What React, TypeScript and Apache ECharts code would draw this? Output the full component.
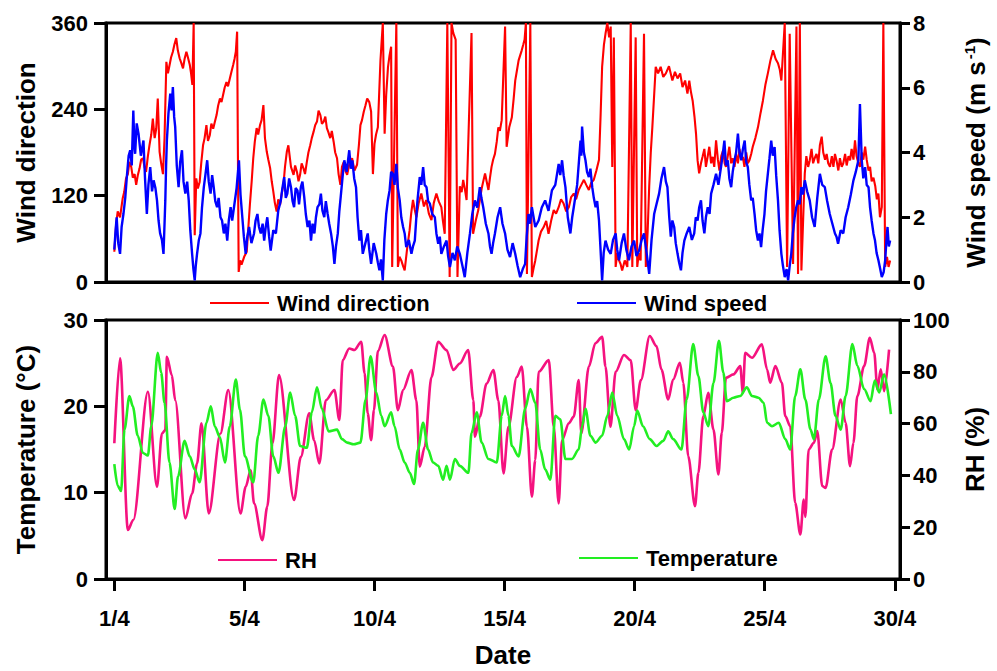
import React, { useEffect, useRef } from "react";
import * as echarts from "echarts";

const dateTickValues = [0, 5, 10, 15, 20, 25, 30];
const dateTickLabels = ["1/4", "5/4", "10/4", "15/4", "20/4", "25/4", "30/4"];

const windDirection: [number, number][] = [
  [0.0,42],[0.07,80],[0.13,98],[0.22,90],[0.32,116],[0.38,125],[0.45,144],[0.52,150],[0.58,167],[0.65,160],[0.71,145],[0.78,150],[0.84,135],[0.9,148],[0.97,158],[1.03,170],[1.1,172],[1.16,160],[1.22,153],[1.29,175],[1.35,190],[1.42,205],[1.48,227],[1.55,200],[1.61,213],[1.67,255],[1.74,181],[1.8,165],[1.87,150],[1.93,200],[2.0,306],[2.06,290],[2.12,301],[2.18,312],[2.25,320],[2.31,330],[2.38,339],[2.44,322],[2.51,311],[2.57,305],[2.64,297],[2.7,310],[2.77,320],[2.83,312],[2.9,302],[2.95,290],[3.0,274],[3.05,360],[3.09,65],[3.15,144],[3.21,130],[3.28,139],[3.34,165],[3.41,190],[3.47,200],[3.54,218],[3.6,196],[3.67,204],[3.73,220],[3.8,213],[3.86,222],[3.93,232],[3.99,245],[4.06,255],[4.12,250],[4.18,260],[4.24,270],[4.31,278],[4.37,272],[4.44,283],[4.5,292],[4.57,302],[4.62,310],[4.67,320],[4.72,348],[4.78,14],[4.84,30],[4.89,24],[4.99,35],[5.09,42],[5.15,75],[5.21,107],[5.28,140],[5.34,172],[5.4,195],[5.47,214],[5.53,205],[5.6,218],[5.66,225],[5.73,246],[5.79,200],[5.86,181],[5.92,170],[5.99,158],[6.05,140],[6.11,126],[6.17,110],[6.24,98],[6.3,115],[6.37,107],[6.43,122],[6.5,135],[6.56,160],[6.63,181],[6.69,190],[6.79,160],[6.89,149],[6.95,162],[7.02,153],[7.08,140],[7.14,149],[7.2,165],[7.27,158],[7.33,150],[7.4,167],[7.46,180],[7.53,190],[7.59,200],[7.66,209],[7.72,218],[7.79,223],[7.85,238],[7.92,232],[7.98,220],[8.05,223],[8.11,230],[8.17,214],[8.23,208],[8.3,200],[8.36,210],[8.43,195],[8.49,180],[8.56,172],[8.62,150],[8.69,135],[8.75,160],[8.82,167],[8.88,155],[8.95,149],[9.04,165],[9.14,172],[9.23,155],[9.33,163],[9.4,190],[9.46,218],[9.52,225],[9.59,237],[9.65,245],[9.72,255],[9.8,250],[9.87,237],[9.94,150],[10.0,192],[10.06,205],[10.13,215],[10.23,308],[10.32,360],[10.39,206],[10.45,260],[10.52,299],[10.58,315],[10.64,327],[10.68,21],[10.84,360],[10.9,21],[10.96,35],[11.03,30],[11.1,22],[11.16,16],[11.25,45],[11.35,72],[11.41,95],[11.48,114],[11.55,100],[11.61,90],[11.7,110],[11.8,123],[11.9,105],[11.99,114],[12.09,95],[12.19,86],[12.28,110],[12.38,123],[12.47,112],[12.57,104],[12.63,85],[12.7,67],[12.8,360],[12.89,7],[12.96,360],[13.03,346],[13.12,337],[13.19,7],[13.28,133],[13.35,125],[13.41,142],[13.48,128],[13.54,114],[13.73,346],[13.79,67],[13.89,85],[13.99,100],[14.12,130],[14.25,151],[14.31,140],[14.38,128],[14.44,145],[14.5,160],[14.56,170],[14.63,178],[14.7,195],[14.76,215],[14.82,210],[14.89,225],[15.02,355],[15.08,188],[15.18,215],[15.28,229],[15.35,255],[15.41,280],[15.48,295],[15.54,308],[15.6,315],[15.66,322],[15.72,330],[15.77,337],[15.82,360],[15.86,11],[15.99,360],[16.05,7],[16.12,20],[16.18,30],[16.25,45],[16.31,58],[16.4,70],[16.5,76],[16.6,85],[16.69,67],[16.79,85],[16.89,100],[16.98,95],[17.08,104],[17.17,115],[17.27,109],[17.37,98],[17.47,104],[17.56,118],[17.66,123],[17.75,115],[17.85,128],[17.95,135],[18.05,142],[18.14,135],[18.24,128],[18.33,138],[18.43,142],[18.53,155],[18.63,170],[18.69,230],[18.75,299],[18.82,330],[18.88,345],[18.95,360],[19.02,340],[19.08,355],[19.14,160],[19.2,340],[19.27,21],[19.33,40],[19.4,30],[19.46,25],[19.52,16],[19.62,30],[19.72,21],[19.85,360],[19.91,21],[20.04,340],[20.1,21],[20.16,40],[20.23,30],[20.36,345],[20.43,21],[20.5,70],[20.56,133],[20.62,180],[20.68,215],[20.75,260],[20.81,299],[20.9,290],[21.0,299],[21.1,285],[21.2,290],[21.32,300],[21.45,280],[21.55,292],[21.65,283],[21.75,290],[21.84,271],[21.94,280],[22.03,262],[22.1,280],[22.16,265],[22.23,252],[22.3,230],[22.36,206],[22.42,169],[22.48,151],[22.55,165],[22.61,174],[22.68,185],[22.74,160],[22.81,175],[22.87,188],[22.94,165],[23.0,174],[23.06,160],[23.13,197],[23.2,170],[23.26,155],[23.33,175],[23.4,183],[23.46,165],[23.51,160],[23.58,175],[23.64,188],[23.71,165],[23.77,172],[23.84,160],[23.9,178],[23.97,165],[24.03,185],[24.1,170],[24.16,174],[24.22,160],[24.29,180],[24.35,165],[24.41,169],[24.48,178],[24.54,188],[24.64,200],[24.74,215],[24.84,235],[24.93,252],[25.03,275],[25.12,290],[25.22,308],[25.32,322],[25.42,310],[25.51,304],[25.58,295],[25.64,280],[25.77,360],[25.86,21],[25.96,345],[26.09,25],[26.22,355],[26.28,11],[26.35,360],[26.41,16],[26.48,90],[26.54,151],[26.6,175],[26.67,160],[26.73,169],[26.8,185],[26.86,165],[26.92,172],[26.99,178],[27.06,165],[27.12,190],[27.19,202],[27.25,180],[27.32,170],[27.38,178],[27.44,165],[27.51,160],[27.58,175],[27.64,160],[27.7,178],[27.76,169],[27.83,155],[27.89,172],[27.96,160],[28.02,165],[28.09,178],[28.15,162],[28.22,175],[28.28,169],[28.34,185],[28.41,170],[28.47,197],[28.53,175],[28.6,165],[28.66,160],[28.73,180],[28.79,170],[28.86,188],[28.92,170],[28.99,155],[29.05,160],[29.11,140],[29.18,145],[29.25,133],[29.31,115],[29.37,123],[29.43,90],[29.5,104],[29.56,360],[29.63,21],[29.7,35],[29.76,21],[29.82,30],
];

const windSpeed: [number, number][] = [
  [0,1.0],[0.05,1.6],[0.09,2.0],[0.15,1.2],[0.22,0.87],[0.28,1.7],[0.35,2.1],[0.42,2.6],[0.48,3.24],[0.55,3.9],[0.61,4.07],[0.67,3.6],[0.73,5.3],[0.77,4.2],[0.8,3.96],[0.86,4.9],[0.93,4.58],[1.02,3.9],[1.12,4.37],[1.18,3.2],[1.25,2.1],[1.31,3.0],[1.38,3.55],[1.45,2.8],[1.51,3.14],[1.58,2.9],[1.64,2.52],[1.7,1.9],[1.76,1.5],[1.83,1.3],[1.89,0.87],[1.93,1.8],[1.96,2.52],[1.99,3.6],[2.02,4.37],[2.08,5.2],[2.15,5.82],[2.2,5.3],[2.25,6.02],[2.3,5.1],[2.34,4.79],[2.4,3.6],[2.47,2.93],[2.53,3.7],[2.6,4.07],[2.66,3.1],[2.73,2.73],[2.8,3.1],[2.86,2.52],[2.92,1.6],[2.99,0.87],[3.04,0.4],[3.09,0.05],[3.13,0.5],[3.18,0.87],[3.25,1.3],[3.31,1.5],[3.37,2.3],[3.44,2.93],[3.5,3.3],[3.57,3.76],[3.63,3.1],[3.7,2.73],[3.76,3.3],[3.82,2.93],[3.88,2.5],[3.95,2.31],[4.01,2.6],[4.08,2.0],[4.14,1.9],[4.21,1.5],[4.27,1.8],[4.34,1.28],[4.4,1.9],[4.47,2.31],[4.53,1.9],[4.6,2.31],[4.7,2.9],[4.79,3.76],[4.85,2.7],[4.92,2.0],[4.98,1.4],[5.05,0.87],[5.11,1.4],[5.18,1.7],[5.27,1.2],[5.37,1.5],[5.43,1.9],[5.5,2.1],[5.56,1.7],[5.63,1.5],[5.7,1.8],[5.76,1.28],[5.82,1.7],[5.88,2.0],[5.95,1.4],[6.01,0.97],[6.11,1.6],[6.21,1.5],[6.3,2.2],[6.4,2.52],[6.46,2.9],[6.53,3.24],[6.59,2.6],[6.65,2.73],[6.72,3.2],[6.79,2.93],[6.85,2.5],[6.91,2.31],[6.97,2.9],[7.04,2.83],[7.1,2.4],[7.17,2.93],[7.23,3.1],[7.3,2.62],[7.36,2.1],[7.43,1.7],[7.5,1.9],[7.56,1.28],[7.62,1.8],[7.69,1.5],[7.75,2.0],[7.81,2.31],[7.88,2.4],[7.94,2.73],[8.0,2.2],[8.07,2.0],[8.13,2.5],[8.2,2.1],[8.26,1.8],[8.33,1.5],[8.4,1.1],[8.46,0.56],[8.52,1.1],[8.59,1.5],[8.65,2.2],[8.71,2.7],[8.78,3.3],[8.84,3.76],[8.93,3.4],[9.03,4.07],[9.09,3.5],[9.15,3.76],[9.22,3.2],[9.29,2.93],[9.35,2.0],[9.42,1.28],[9.48,1.6],[9.55,0.87],[9.65,1.2],[9.74,1.5],[9.8,1.0],[9.87,0.56],[9.97,1.2],[10.07,0.87],[10.13,0.6],[10.19,0.36],[10.25,0.7],[10.32,0.05],[10.38,1.3],[10.45,2.1],[10.51,2.5],[10.58,2.83],[10.64,3.4],[10.71,3.34],[10.77,3.0],[10.84,3.65],[10.9,2.9],[10.97,2.52],[11.03,2.0],[11.1,1.7],[11.16,1.5],[11.22,1.08],[11.32,1.3],[11.42,0.87],[11.48,1.1],[11.55,1.28],[11.65,2.5],[11.74,3.24],[11.8,3.0],[11.87,3.55],[11.93,3.0],[12.0,2.93],[12.06,2.5],[12.13,2.42],[12.22,2.1],[12.32,2.0],[12.38,1.5],[12.45,1.18],[12.51,1.4],[12.57,0.87],[12.67,1.1],[12.77,1.28],[12.83,0.8],[12.9,0.46],[13.0,0.9],[13.09,0.67],[13.18,1.1],[13.28,0.87],[13.38,0.5],[13.47,0.15],[13.57,0.9],[13.67,1.5],[13.76,2.1],[13.86,2.52],[13.95,2.3],[14.05,2.93],[14.11,2.6],[14.18,2.31],[14.28,1.8],[14.38,1.5],[14.44,1.1],[14.5,0.87],[14.56,1.2],[14.63,1.5],[14.73,2.0],[14.83,2.31],[14.92,1.8],[15.02,1.5],[15.11,1.0],[15.21,0.77],[15.31,1.2],[15.41,0.87],[15.5,0.5],[15.6,0.15],[15.7,0.4],[15.79,0.56],[15.85,1.4],[15.92,2.1],[15.98,1.8],[16.05,2.31],[16.18,1.7],[16.31,1.9],[16.43,2.3],[16.56,2.52],[16.69,2.2],[16.82,2.83],[16.95,3.0],[17.08,3.65],[17.14,3.3],[17.21,3.76],[17.27,3.3],[17.34,2.93],[17.43,2.0],[17.53,1.5],[17.6,2.0],[17.66,2.31],[17.79,3.0],[17.92,4.37],[17.95,3.9],[17.98,4.8],[18.05,4.0],[18.11,3.76],[18.17,3.4],[18.24,3.24],[18.3,3.5],[18.37,2.93],[18.43,2.6],[18.5,2.31],[18.56,2.5],[18.63,1.9],[18.69,1.0],[18.75,0.05],[18.81,0.9],[18.88,1.28],[18.98,1.0],[19.08,0.87],[19.17,1.3],[19.27,1.5],[19.33,1.0],[19.4,0.67],[19.5,1.2],[19.59,1.5],[19.68,1.0],[19.78,0.67],[19.88,1.1],[19.98,1.28],[20.07,0.8],[20.17,0.97],[20.27,1.3],[20.36,1.5],[20.46,0.9],[20.56,0.25],[20.65,1.3],[20.75,2.1],[20.84,2.4],[20.94,2.73],[21.03,3.2],[21.13,3.55],[21.2,3.1],[21.26,2.93],[21.33,2.0],[21.39,1.4],[21.45,1.9],[21.52,1.7],[21.58,1.2],[21.65,0.87],[21.71,0.6],[21.78,0.36],[21.84,0.9],[21.91,1.28],[22.0,1.5],[22.1,1.7],[22.2,1.3],[22.29,1.5],[22.35,2.0],[22.42,1.9],[22.48,2.3],[22.55,2.52],[22.61,1.9],[22.68,1.5],[22.74,2.0],[22.81,2.31],[22.88,2.1],[22.94,2.73],[23.03,3.0],[23.13,3.34],[23.22,3.0],[23.32,3.55],[23.38,3.9],[23.45,4.37],[23.51,3.6],[23.58,3.76],[23.64,3.2],[23.71,2.93],[23.77,3.4],[23.84,3.76],[23.9,4.0],[23.97,4.58],[24.03,4.0],[24.1,3.76],[24.16,4.1],[24.23,4.37],[24.29,3.7],[24.35,3.55],[24.41,3.0],[24.48,2.52],[24.54,2.6],[24.61,2.1],[24.67,1.6],[24.74,1.28],[24.8,1.5],[24.86,1.08],[24.92,1.6],[24.99,2.1],[25.05,2.8],[25.12,3.34],[25.18,3.8],[25.25,4.37],[25.31,3.9],[25.38,4.17],[25.44,3.3],[25.51,2.52],[25.57,1.6],[25.64,0.87],[25.7,0.5],[25.77,0.15],[25.84,0.4],[25.9,0.05],[25.96,0.5],[26.02,0.87],[26.08,1.5],[26.15,2.0],[26.21,2.3],[26.28,2.52],[26.34,2.4],[26.41,2.93],[26.47,2.7],[26.54,3.14],[26.63,2.8],[26.73,2.52],[26.82,2.0],[26.92,1.7],[27.02,2.6],[27.12,3.34],[27.21,3.0],[27.31,2.93],[27.4,2.5],[27.5,2.1],[27.6,1.8],[27.7,1.5],[27.76,1.4],[27.82,1.18],[27.92,1.6],[28.02,1.5],[28.11,2.0],[28.21,2.31],[28.31,2.7],[28.41,3.14],[28.5,3.4],[28.6,3.76],[28.66,5.5],[28.73,3.76],[28.79,3.2],[28.86,3.55],[28.92,3.0],[28.99,2.93],[29.05,2.3],[29.11,1.9],[29.18,1.5],[29.24,1.28],[29.3,0.9],[29.37,0.67],[29.44,0.4],[29.5,0.15],[29.57,0.3],[29.63,0.67],[29.68,1.3],[29.72,1.7],[29.77,1.1],[29.82,1.28],
];

const temperature: [number, number][] = [
  [0.0, 13.3], [0.13, 10.8], [0.26, 10.2], [0.39, 17.3], [0.58, 21.2], [0.71, 20.0], [0.9, 16.6], [1.1, 14.6],
  [1.29, 14.3], [1.42, 17.7], [1.67, 26.2], [1.8, 23.9], [1.93, 20.4], [2.12, 13.5], [2.32, 8.1], [2.45, 11.9],
  [2.7, 16.0], [2.9, 14.2], [3.09, 12.7], [3.28, 11.2], [3.54, 18.1], [3.71, 20.0], [3.86, 17.7], [4.06, 16.4],
  [4.25, 13.5], [4.44, 17.7], [4.67, 23.1], [4.83, 19.6], [5.02, 14.2], [5.34, 11.2], [5.53, 16.6], [5.73, 20.8],
  [5.92, 18.9], [6.11, 14.2], [6.31, 12.3], [6.57, 17.7], [6.76, 21.6], [6.95, 18.9], [7.14, 15.4], [7.4, 15.2],
  [7.59, 19.3], [7.79, 22.2], [7.98, 19.7], [8.24, 17.1], [8.56, 17.3], [8.75, 16.2], [8.95, 15.8], [9.2, 15.6],
  [9.46, 15.8], [9.66, 20.8], [9.85, 25.8], [10.07, 21.6], [10.26, 18.9], [10.39, 17.7], [10.64, 19.3], [10.77, 17.7],
  [10.97, 15.0], [11.16, 13.5], [11.36, 12.3], [11.52, 11.0], [11.67, 15.0], [11.87, 18.1], [12.06, 15.0], [12.25, 13.5],
  [12.45, 13.1], [12.64, 11.5], [12.77, 13.1], [12.9, 11.5], [13.09, 13.9], [13.28, 13.1], [13.61, 12.3], [13.73, 16.9],
  [13.93, 19.3], [14.12, 15.8], [14.38, 13.9], [14.7, 13.5], [14.89, 18.9], [15.02, 21.2], [15.15, 18.9], [15.28, 15.4],
  [15.54, 14.2], [15.79, 19.7], [15.99, 22.0], [16.18, 20.4], [16.37, 15.0], [16.56, 12.7], [16.76, 11.5], [16.95, 18.9],
  [17.14, 18.5], [17.34, 13.9], [17.59, 13.9], [17.85, 15.0], [17.98, 17.7], [18.11, 19.7], [18.3, 16.6], [18.5, 15.8],
  [18.75, 16.6], [18.95, 18.9], [19.14, 21.6], [19.33, 18.9], [19.59, 16.2], [19.79, 15.0], [19.98, 17.7], [20.1, 19.5],
  [20.32, 17.7], [20.58, 16.2], [20.84, 15.4], [21.1, 16.0], [21.29, 17.1], [21.48, 16.2], [21.8, 15.0], [22.0, 20.8],
  [22.25, 27.2], [22.45, 23.5], [22.64, 19.3], [22.83, 17.7], [23.03, 22.7], [23.24, 27.6], [23.41, 23.9], [23.54, 20.6],
  [23.8, 21.0], [24.06, 21.2], [24.31, 22.2], [24.51, 21.2], [24.76, 21.0], [24.96, 20.4], [25.09, 18.1], [25.28, 17.7],
  [25.54, 18.1], [25.79, 16.2], [25.98, 15.0], [26.17, 21.2], [26.37, 24.3], [26.56, 20.8], [26.76, 17.3], [26.89, 16.2],
  [27.08, 20.8], [27.34, 25.8], [27.53, 22.7], [27.72, 18.9], [27.92, 17.3], [28.11, 21.2], [28.37, 27.2], [28.56, 24.7],
  [28.82, 22.0], [29.07, 20.6], [29.23, 23.0], [29.4, 21.6], [29.59, 23.7], [29.85, 19.1],
];

const relativeHumidity: [number, number][] = [
  [0.0, 52.4], [0.22, 85.2], [0.52, 18.9], [0.73, 22.8], [1.29, 72.3], [1.64, 35.6], [1.83, 56.2], [1.96, 57.5],
  [2.02, 85.8], [2.21, 78.7], [2.34, 69.0], [2.73, 23.4], [2.99, 33.0], [3.18, 44.6], [3.35, 60.1], [3.63, 25.3],
  [4.08, 56.2], [4.38, 73.0], [4.85, 25.3], [5.05, 35.6], [5.24, 42.0], [5.37, 29.2], [5.69, 15.0], [5.88, 28.0],
  [6.08, 52.4], [6.33, 78.7], [6.91, 30.5], [7.17, 47.2], [7.49, 64.0], [7.68, 53.6], [7.88, 44.6], [8.13, 69.0],
  [8.46, 73.0], [8.65, 61.4], [8.78, 84.5], [9.03, 89.0], [9.23, 88.4], [9.49, 91.6], [9.62, 79.4], [9.74, 64.0],
  [9.87, 53.6], [9.98, 65.2], [10.13, 88.0], [10.39, 94.2], [10.71, 82.0], [10.9, 65.2], [11.1, 73.0], [11.42, 80.7],
  [11.61, 69.0], [11.74, 43.4], [11.93, 51.0], [12.19, 78.0], [12.45, 91.6], [12.77, 88.4], [13.03, 80.7], [13.28, 83.2],
  [13.6, 88.4], [13.8, 69.0], [13.86, 54.9], [14.05, 62.7], [14.31, 75.5], [14.57, 80.7], [14.76, 69.0], [14.96, 40.8],
  [15.15, 58.8], [15.47, 78.0], [15.66, 82.0], [15.86, 58.8], [16.05, 31.8], [16.18, 45.9], [16.31, 80.0], [16.7, 84.5],
  [16.89, 58.8], [17.08, 29.2], [17.21, 53.6], [17.47, 60.1], [17.66, 62.7], [17.85, 76.8], [17.95, 56.2], [18.24, 82.0],
  [18.49, 91.0], [18.75, 93.5], [18.88, 82.0], [19.07, 58.8], [19.27, 80.0], [19.59, 86.5], [19.85, 84.4], [20.04, 65.2],
  [20.24, 76.8], [20.58, 93.8], [20.84, 89.9], [21.03, 80.9], [21.29, 69.3], [21.48, 77.0], [21.74, 83.5], [21.87, 75.8],
  [22.06, 47.4], [22.32, 28.1], [22.45, 41.0], [22.64, 62.9], [22.83, 71.9], [23.03, 57.7], [23.22, 40.4], [23.35, 56.5],
  [23.51, 77.7], [23.8, 79.0], [24.06, 82.2], [24.16, 71.9], [24.25, 87.3], [24.51, 85.4], [24.89, 90.6], [25.09, 80.9],
  [25.21, 75.8], [25.41, 82.2], [25.66, 75.8], [25.79, 62.9], [25.98, 59.0], [26.17, 29.4], [26.37, 17.2], [26.5, 30.7],
  [26.56, 24.0], [26.69, 50.0], [26.89, 52.6], [27.02, 57.1], [27.21, 35.9], [27.34, 35.2], [27.59, 50.0], [27.92, 69.3],
  [28.11, 60.3], [28.28, 43.6], [28.41, 52.6], [28.56, 70.6], [28.82, 82.2], [29.04, 93.1], [29.21, 87.3], [29.33, 73.2],
  [29.46, 81.0], [29.59, 72.5], [29.78, 88.6],
];

const FONT = "'Liberation Sans', Arial, Helvetica, sans-serif";
const BLACK = "#000";

const labelStyle = { fontSize: 22, fontWeight: "bold" as const, color: BLACK, fontFamily: FONT };
const nameStyle = { fontSize: 26, fontWeight: "bold" as const, color: BLACK, fontFamily: FONT };
const axisLine = { show: true, onZero: false, lineStyle: { color: BLACK, width: 3 } };

function yAxisBase(grid: number, position: "left" | "right", min: number, max: number, interval: number) {
  return {
    type: "value",
    gridIndex: grid,
    position,
    min,
    max,
    interval,
    axisLine,
    axisTick: { show: true, length: position === "left" ? 12 : 10, inside: false, lineStyle: { color: BLACK, width: 3 } },
    axisLabel: { ...labelStyle, margin: position === "left" ? 18 : 13 },
    splitLine: { show: false },
    nameLocation: "middle",
  };
}

export default function App() {
  const ref = useRef<HTMLDivElement>(null);

  useEffect(() => {
    if (!ref.current) return;
    const chart = echarts.init(ref.current, undefined, { renderer: "svg" });
    const legendBase = {
      icon: "rect",
      itemWidth: 59,
      itemHeight: 2,
      padding: 0,
      itemGap: 0,
      textStyle: { ...labelStyle, padding: [0, 0, 0, 3] },
    };
    chart.setOption({
      animation: false,
      backgroundColor: "#fff",
      grid: [
        { left: 106, top: 23, width: 794, height: 259, show: true, borderColor: BLACK, borderWidth: 3, backgroundColor: "transparent" },
        { left: 106, top: 320, width: 794, height: 259, show: true, borderColor: BLACK, borderWidth: 3, backgroundColor: "transparent" },
      ],
      legend: [
        { ...legendBase, data: ["Wind direction"], left: 210, top: 292 },
        { ...legendBase, data: ["Wind speed"], left: 577, top: 292 },
        { ...legendBase, data: ["RH"], left: 218, top: 549 },
        { ...legendBase, data: ["Temperature"], left: 579, top: 547 },
      ],
      xAxis: [
        {
          type: "value",
          gridIndex: 0,
          min: -0.32,
          max: 30.2,
          axisLine,
          axisTick: { show: false },
          axisLabel: { show: false },
          splitLine: { show: false },
        },
        {
          type: "value",
          gridIndex: 1,
          min: -0.32,
          max: 30.2,
          axisLine,
          axisTick: { show: true, customValues: dateTickValues, length: 12, lineStyle: { color: BLACK, width: 3 } },
          axisLabel: {
            ...labelStyle,
            customValues: dateTickValues,
            margin: 28,
            formatter: (v: number) => {
              const i = dateTickValues.indexOf(Math.round(v));
              return i >= 0 ? dateTickLabels[i] : "";
            },
          },
          splitLine: { show: false },
          name: "Date",
          nameLocation: "middle",
          nameGap: 63,
          nameTextStyle: nameStyle,
        },
      ],
      yAxis: [
        { ...yAxisBase(0, "left", 0, 360, 120), name: "Wind direction", nameGap: 67, nameTextStyle: nameStyle },
        {
          ...yAxisBase(0, "right", 0, 8, 2),
          name: "{b|Wind speed (m s}{s|-1}{b|)}",
          nameGap: 62,
          nameTextStyle: {
            ...nameStyle,
            rich: {
              b: { ...nameStyle },
              s: { fontSize: 15, fontWeight: "bold", color: BLACK, fontFamily: FONT, verticalAlign: "top", padding: [0, 0, 12, 2] },
            },
          },
        },
        { ...yAxisBase(1, "left", 0, 30, 10), name: "Temperature (°C)", nameGap: 67, nameTextStyle: nameStyle },
        { ...yAxisBase(1, "right", 0, 100, 20), name: "RH (%)", nameGap: 62, nameTextStyle: nameStyle },
      ],
      series: [
        {
          type: "line",
          name: "Wind direction",
          xAxisIndex: 0,
          yAxisIndex: 0,
          data: windDirection,
          showSymbol: false,
          symbol: "none",
          color: "#ff0000",
          lineStyle: { color: "#ff0000", width: 2.1 },
        },
        {
          type: "line",
          name: "Wind speed",
          xAxisIndex: 0,
          yAxisIndex: 1,
          data: windSpeed,
          showSymbol: false,
          symbol: "none",
          color: "#0000ff",
          lineStyle: { color: "#0000ff", width: 2.4 },
        },
        {
          type: "line",
          name: "RH",
          xAxisIndex: 1,
          yAxisIndex: 3,
          data: relativeHumidity,
          showSymbol: false,
          symbol: "none",
          smooth: 0.3,
          smoothMonotone: "x",
          color: "#f5127f",
          lineStyle: { color: "#f5127f", width: 2.6 },
        },
        {
          type: "line",
          name: "Temperature",
          xAxisIndex: 1,
          yAxisIndex: 2,
          data: temperature,
          showSymbol: false,
          symbol: "none",
          smooth: 0.3,
          smoothMonotone: "x",
          color: "#22ee22",
          lineStyle: { color: "#22ee22", width: 2.6 },
        },
      ],
    });
    return () => chart.dispose();
  }, []);

  return <div ref={ref} style={{ position: "fixed", left: 0, top: 0, width: 997, height: 671, background: "#fff" }} />;
}
